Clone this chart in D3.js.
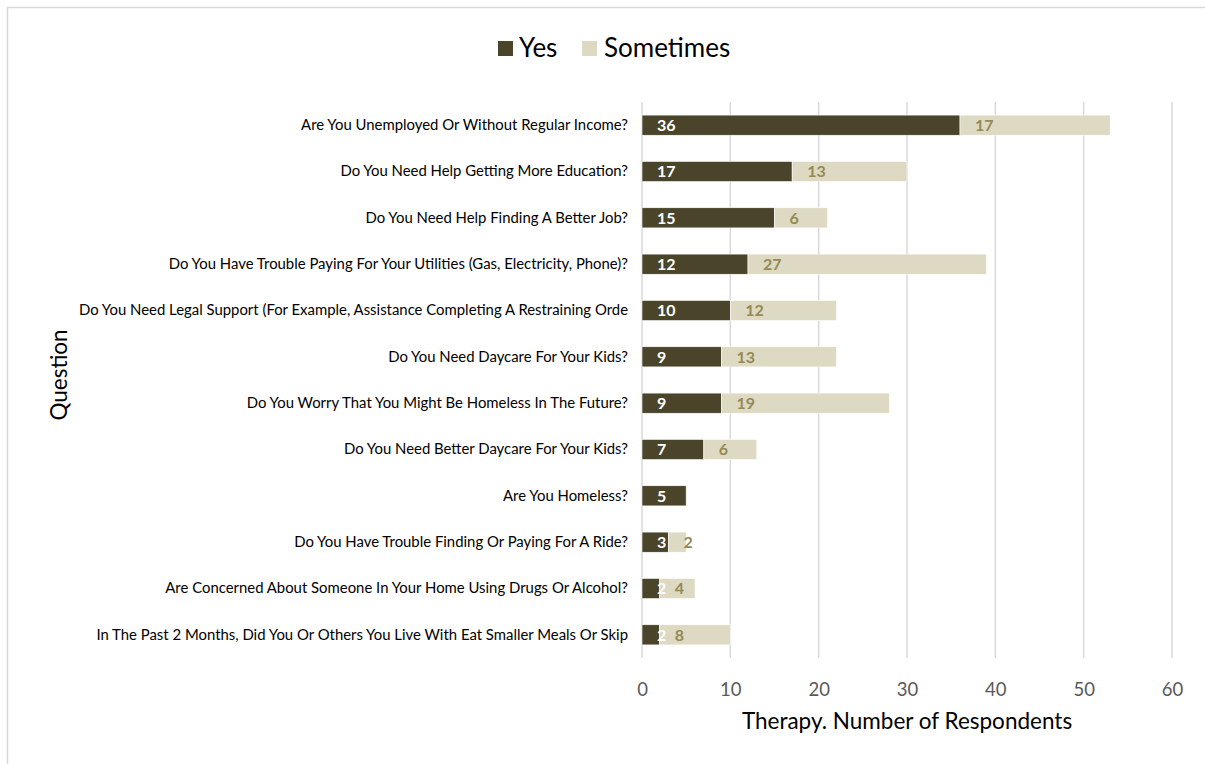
<!DOCTYPE html>
<html>
<head>
<meta charset="utf-8">
<script src="https://cdn.jsdelivr.net/npm/d3@7"></script>
<style>
  html, body { margin: 0; padding: 0; background: #fff; }
  svg { display: block; font-family: Lato, "Open Sans", sans-serif; }
</style>
</head>
<body>
<svg id="chart" width="1205" height="764"></svg>
<script>
// Survey questions, top to bottom
const questions = [
  "Are You Unemployed Or Without Regular Income?",
  "Do You Need Help Getting More Education?",
  "Do You Need Help Finding A Better Job?",
  "Do You Have Trouble Paying For Your Utilities (Gas, Electricity, Phone)?",
  "Do You Need Legal Support (For Example, Assistance Completing A Restraining Orde",
  "Do You Need Daycare For Your Kids?",
  "Do You Worry That You Might Be Homeless In The Future?",
  "Do You Need Better Daycare For Your Kids?",
  "Are You Homeless?",
  "Do You Have Trouble Finding Or Paying For A Ride?",
  "Are Concerned About Someone In Your Home Using Drugs Or Alcohol?",
  "In The Past 2 Months, Did You Or Others You Live With Eat Smaller Meals Or Skip"
];
const yesValues       = [36, 17, 15, 12, 10, 9, 9, 7, 5, 3, 2, 2];
const sometimesValues = [17, 13, 6, 27, 12, 13, 19, 6, 0, 2, 4, 8];
const seriesNames = ["Yes", "Sometimes"];
const xTicks = [0, 10, 20, 30, 40, 50, 60];

const colors = { Yes: "#4a452a", Sometimes: "#ddd9c3" };
const labelColors = { Yes: "#ffffff", Sometimes: "#948a54" };

const svg = d3.select("#chart");

// outer chart frame
svg.append("rect")
  .attr("x", 7.5).attr("y", 7.5)
  .attr("width", 1300).attr("height", 900)
  .attr("fill", "none").attr("stroke", "#d9d9d9").attr("stroke-width", 1.5);

const plot = { left: 642, right: 1172, top: 102, bottom: 658 };

const x = d3.scaleLinear().domain([0, 60]).range([plot.left, plot.right]);
const y = d3.scaleBand().domain(questions).range([plot.top, plot.bottom]).paddingInner(0.565).paddingOuter(0.2825);

// gridlines
svg.append("g")
  .selectAll("line")
  .data(xTicks)
  .join("line")
  .attr("x1", d => x(d)).attr("x2", d => x(d))
  .attr("y1", plot.top).attr("y2", plot.bottom)
  .attr("stroke", "#d9d9d9").attr("stroke-width", 1.5);

// stacked data
const rows = questions.map((q, i) => ({ q, Yes: yesValues[i], Sometimes: sometimesValues[i] }));
const stack = d3.stack().keys(seriesNames)(rows);

const groups = svg.append("g").selectAll("g")
  .data(stack)
  .join("g")
  .attr("fill", d => colors[d.key]);

groups.selectAll("rect")
  .data(d => d.filter(s => s[1] - s[0] > 0))
  .join("rect")
  .attr("x", d => x(d[0]))
  .attr("y", d => y(d.data.q))
  .attr("width", d => x(d[1]) - x(d[0]))
  .attr("height", y.bandwidth())
  .attr("stroke", "#ffffff")
  .attr("stroke-width", 0.6);

// value labels at the inside base of each segment
const labels = svg.append("g").selectAll("g")
  .data(stack)
  .join("g")
  .attr("fill", d => labelColors[d.key]);

labels.selectAll("text")
  .data(d => d.filter(s => s[1] - s[0] > 0))
  .join("text")
  .attr("x", d => x(d[0]) + 15)
  .attr("y", d => y(d.data.q) + y.bandwidth() / 2)
  .attr("dy", "0.36em")
  .attr("font-size", 16)
  .attr("font-weight", "bold")
  .text(d => d[1] - d[0]);

// category axis labels
const yAxis = d3.axisLeft(y).tickSize(0).tickPadding(14);
const gy = svg.append("g").attr("transform", `translate(${plot.left},0)`).call(yAxis);
gy.select(".domain").remove();
gy.selectAll("text")
  .attr("font-family", "Lato, sans-serif")
  .attr("font-size", 14.9)
  .attr("fill", "#000");

// value axis
const xAxis = d3.axisBottom(x).tickValues(xTicks).tickSize(0).tickPadding(25);
const gx = svg.append("g").attr("transform", `translate(0,${plot.bottom})`).call(xAxis);
gx.select(".domain").remove();
gx.selectAll("text")
  .attr("font-family", "Lato, sans-serif")
  .attr("font-size", 18.5)
  .attr("fill", "#595959");

// axis titles
svg.append("text")
  .attr("x", (plot.left + plot.right) / 2)
  .attr("y", 729)
  .attr("text-anchor", "middle")
  .attr("font-size", 22.5)
  .attr("fill", "#000")
  .text("Therapy. Number of Respondents");

svg.append("text")
  .attr("transform", `translate(67,375) rotate(-90)`)
  .attr("text-anchor", "middle")
  .attr("font-size", 22.5)
  .attr("fill", "#000")
  .text("Question");

// legend
const legend = svg.append("g");
const legendItems = [
  { key: "Yes", sx: 498, tx: 519 },
  { key: "Sometimes", sx: 582, tx: 604 }
];
legendItems.forEach(it => {
  legend.append("rect")
    .attr("x", it.sx).attr("y", 41)
    .attr("width", 15).attr("height", 15)
    .attr("fill", colors[it.key]);
  legend.append("text")
    .attr("x", it.tx).attr("y", 57)
    .attr("font-size", 26)
    .attr("fill", "#000")
    .text(it.key);
});
</script>
</body>
</html>
